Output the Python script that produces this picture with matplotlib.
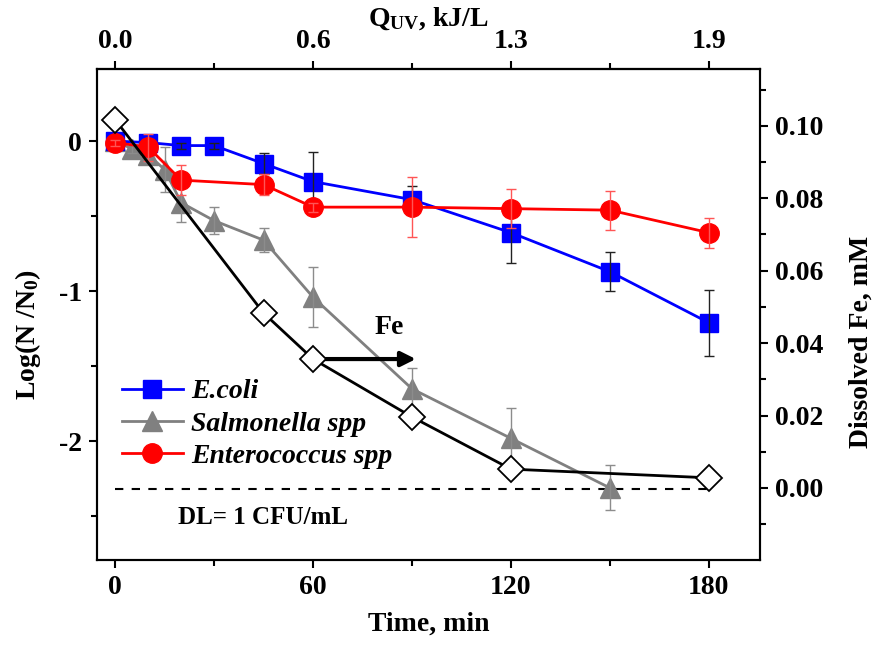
import matplotlib
matplotlib.use("Agg")
import matplotlib.pyplot as plt
from matplotlib.ticker import MultipleLocator, FixedLocator, FormatStrFormatter

plt.rcParams['font.family'] = ['Liberation Serif', 'DejaVu Serif']
plt.rcParams['font.weight'] = 'bold'
plt.rcParams['axes.labelweight'] = 'bold'
plt.rcParams['font.size'] = 20
plt.rcParams['axes.unicode_minus'] = False
plt.rcParams['mathtext.fontset'] = 'custom'
plt.rcParams['mathtext.rm'] = 'Liberation Serif:bold'
plt.rcParams['mathtext.bf'] = 'Liberation Serif:bold'
plt.rcParams['mathtext.it'] = 'Liberation Serif:bold:italic'

# --- data ---
time_ecoli = [0, 10, 20, 30, 45, 60, 90, 120, 150, 180]
log_ecoli = [0.0, -0.01, -0.03, -0.03, -0.15, -0.27, -0.39, -0.61, -0.87, -1.21]
err_ecoli = [0.02, 0.02, 0.02, 0.02, 0.07, 0.20, 0.09, 0.20, 0.13, 0.22]

time_salm = [0, 5, 10, 15, 20, 30, 45, 60, 90, 120, 150]
log_salm = [0.0, -0.05, -0.09, -0.19, -0.41, -0.53, -0.66, -1.04, -1.65, -1.98, -2.31]
err_salm = [0.02, 0.03, 0.05, 0.15, 0.13, 0.09, 0.08, 0.20, 0.14, 0.20, 0.15]

time_ent = [0, 10, 20, 45, 60, 90, 120, 150, 180]
log_ent = [-0.01, -0.04, -0.26, -0.29, -0.44, -0.44, -0.45, -0.46, -0.61]
err_ent = [0.02, 0.09, 0.10, 0.07, 0.03, 0.20, 0.13, 0.13, 0.10]

time_fe = [0, 45, 60, 90, 120, 180]
fe_mM = [0.1017, 0.0483, 0.0356, 0.0196, 0.0052, 0.0028]

dl_log = -2.32
time_ticks = [0, 60, 120, 180]
quv_labels = ['0.0', '0.6', '1.3', '1.9']

fig = plt.figure(figsize=(8.73, 6.46), dpi=100)
ax = fig.add_axes([0.1111, 0.1331, 0.7595, 0.7601])
ax2 = ax.twinx()

# bacteria curves (left axis)
l_salm, = ax.plot(time_salm, log_salm, color='#808080', lw=2, marker='^', ms=15,
                  label='Salmonella spp', zorder=2)
ax.errorbar(time_salm, log_salm, yerr=err_salm, fmt='none', ecolor='#8c8c8c',
            elinewidth=1, capsize=3.5, capthick=1, zorder=2.1)
l_ecoli, = ax.plot(time_ecoli, log_ecoli, color='#0000ff', lw=2, marker='s', ms=13,
                   label='E.coli', zorder=3)
ax.errorbar(time_ecoli, log_ecoli, yerr=err_ecoli, fmt='none', ecolor='#222222',
            elinewidth=1, capsize=3.5, capthick=1, zorder=3.1)
l_ent, = ax.plot(time_ent, log_ent, color='#ff0000', lw=2, marker='o', ms=14,
                 label='Enterococcus spp', zorder=4)
ax.errorbar(time_ent, log_ent, yerr=err_ent, fmt='none', ecolor='#ff5555',
            elinewidth=1, capsize=3.5, capthick=1, zorder=4.1)

ax.plot([0, 180], [dl_log, dl_log], color='black', lw=1.5, ls=(0, (4, 4)), zorder=1)
ax.text(19, -2.51, 'DL= 1 CFU/mL', fontsize=18, ha='left', va='center')
ax.text(83, -1.24, 'Fe', fontsize=20, ha='center', va='center')

ax.set_xlim(-5.5, 195.5)
ax.set_ylim(-2.79, 0.48)
ax.set_xticks(time_ticks)
ax.xaxis.set_minor_locator(FixedLocator([30, 90, 150]))
ax.yaxis.set_major_locator(MultipleLocator(1))
ax.yaxis.set_minor_locator(MultipleLocator(0.5))
ax.set_xlabel('Time, min', labelpad=8)
ax.set_ylabel(r'Log(N /N$_\mathbf{0}$)')
ax.yaxis.set_label_coords(-0.081, 0.46)

# dissolved Fe (right axis)
ax2.plot(time_fe, fe_mM, color='black', lw=2, marker='D', ms=13,
         mfc='white', mec='black', mew=1.3, zorder=5)
ax2.annotate('', xy=(92, 0.0356), xytext=(60, 0.0356),
             arrowprops=dict(arrowstyle='-|>', lw=3, color='black', mutation_scale=22))
ax2.set_ylim(-0.0199, 0.1157)
ax2.yaxis.set_major_locator(MultipleLocator(0.02))
ax2.yaxis.set_minor_locator(MultipleLocator(0.01))
ax2.yaxis.set_major_formatter(FormatStrFormatter('%.2f'))
ax2.set_ylabel('Dissolved Fe, mM')
ax2.yaxis.set_label_coords(1.133, 0.445)

# top axis: UV dose
top = ax.secondary_xaxis('top')
top.set_xticks(time_ticks)
top.set_xticklabels(quv_labels)
top.xaxis.set_minor_locator(FixedLocator([30, 90, 150]))
top.set_xlabel(r'Q$_\mathbf{UV}$, kJ/L', labelpad=2)

for a in (ax, ax2, top):
    a.tick_params(which='major', direction='out', length=6, width=1.5, pad=5)
    a.tick_params(which='minor', direction='out', length=4, width=1.5)
for a in (ax, ax2):
    for s in a.spines.values():
        s.set_linewidth(1.5)
top.spines['top'].set_linewidth(1.5)

ax.legend(handles=[l_ecoli, l_salm, l_ent], loc='center left',
          bbox_to_anchor=(0.0166, 0.277), frameon=False,
          borderpad=0, handlelength=2.2, handletextpad=0.3, labelspacing=0.25,
          numpoints=1, prop=dict(family='Liberation Serif', style='italic',
                                 weight='bold', size=20))

fig.savefig('out.png', dpi=100)
